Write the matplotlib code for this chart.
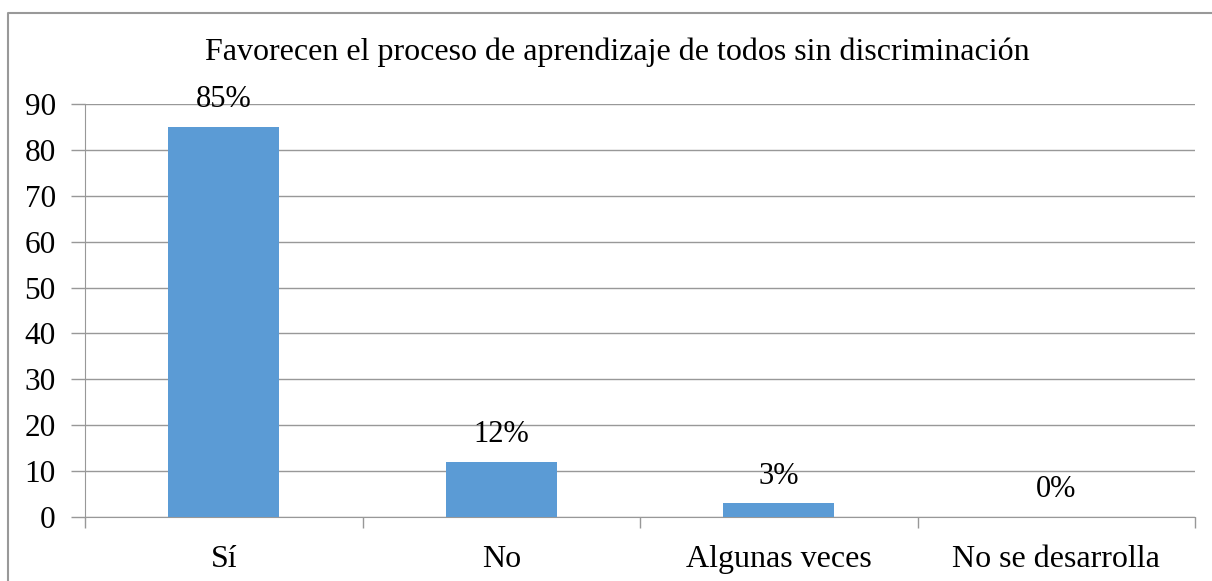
import matplotlib.pyplot as plt
from matplotlib.lines import Line2D

categories = ["Sí", "No", "Algunas veces", "No se desarrolla"]
values = [85, 12, 3, 0]
labels = ["85%", "12%", "3%", "0%"]
yticks = [0, 10, 20, 30, 40, 50, 60, 70, 80, 90]

plt.rcParams['font.family'] = ['Liberation Serif', 'DejaVu Serif']

fig = plt.figure(figsize=(12.12, 5.81), dpi=100)
ax = fig.add_axes([85 / 1212, 1 - 517 / 581, 1110 / 1212, 413 / 581])

# outer frame (only top and left edges show in the crop)
fig.lines.append(Line2D([7.5 / 1212, 7.5 / 1212, 1], [0, 1 - 12.5 / 581, 1 - 12.5 / 581],
                        transform=fig.transFigure, color='#999999', linewidth=1.5))

gray = '#989898'
x = range(len(categories))
ax.bar(x, values, width=0.4, color='#5B9BD5', zorder=3)
for i, v in enumerate(values):
    ax.annotate(labels[i], (i, v), xytext=(0, 19.5), textcoords='offset points',
                ha='center', va='center', fontsize=22)

ax.set_xlim(-0.5, len(categories) - 0.5)
ax.set_ylim(0, 90)
ax.set_yticks(yticks)
ax.set_yticklabels([str(t) for t in yticks], fontsize=22.5)
ax.set_xticks(list(x))
ax.set_xticklabels(categories, fontsize=23)
ax.set_xticks([i - 0.5 for i in range(len(categories) + 1)], minor=True)
ax.tick_params(axis='x', which='major', length=0, pad=20)
ax.tick_params(axis='x', which='minor', length=8, color=gray, width=1)
ax.tick_params(axis='y', length=10, color=gray, width=1, pad=11)

ax.grid(axis='y', color=gray, linewidth=1, zorder=0)
for s in ['top', 'right']:
    ax.spines[s].set_visible(False)
ax.spines['left'].set_color(gray)
ax.spines['bottom'].set_color(gray)

fig.text(617 / 1212, 1 - 52 / 581, "Favorecen el proceso de aprendizaje de todos sin discriminación",
         ha='center', va='center', fontsize=23)

fig.savefig('out.png', dpi=100)
